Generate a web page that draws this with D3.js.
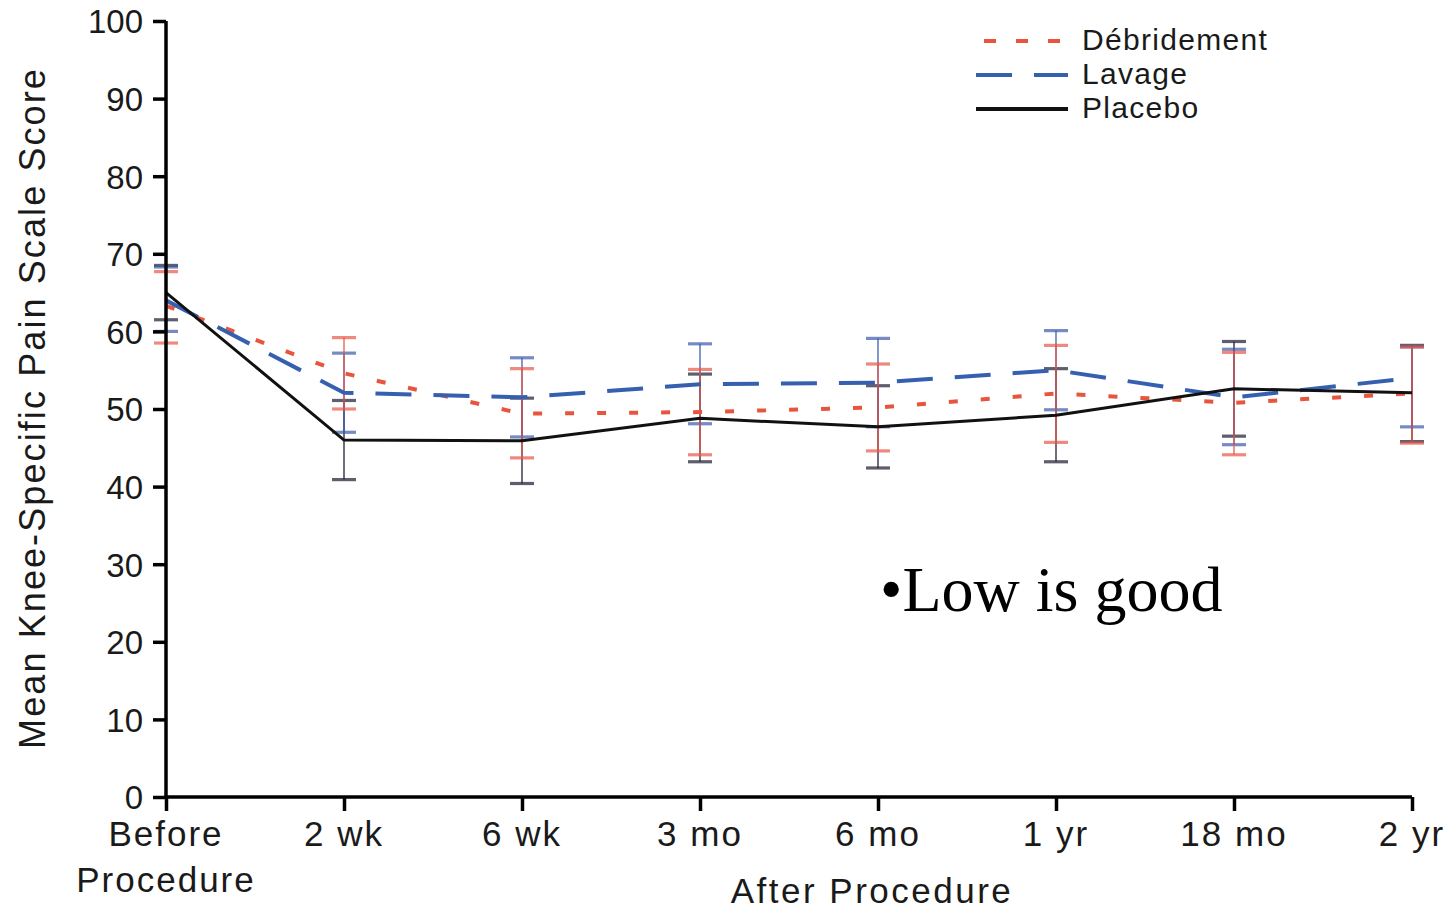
<!DOCTYPE html>
<html><head><meta charset="utf-8">
<script src="https://cdn.jsdelivr.net/npm/d3@7"></script>
<style>body{margin:0;background:#fff}svg{display:block}</style>
</head><body>
<svg id="c" width="1455" height="912"></svg>
<script>
const categories = ["Before Procedure","2 wk","6 wk","3 mo","6 mo","1 yr","18 mo","2 yr"];
const yTicks = [0,10,20,30,40,50,60,70,80,90,100];

const debridementMean = [63.3, 54.6, 49.4, 49.6, 50.2, 52.0, 50.8, 52.0];
const debridementLow  = [58.5, 50.0, 43.7, 44.1, 44.6, 45.7, 44.1, 45.6];
const debridementHigh = [67.7, 59.2, 55.2, 55.1, 55.8, 58.2, 57.3, 58.0];

const lavageMean = [64.0, 52.1, 51.5, 53.2, 53.4, 55.0, 51.5, 54.0];
const lavageLow  = [60.0, 47.0, 46.4, 48.1, 47.7, 49.9, 45.4, 47.7];
const lavageHigh = [68.3, 57.2, 56.6, 58.4, 59.1, 60.1, 57.7, 58.0];

const placeboMean = [65.0, 46.0, 45.9, 48.8, 47.7, 49.2, 52.6, 52.1];
const placeboLow  = [61.5, 40.9, 40.4, 43.2, 42.4, 43.2, 46.5, 45.8];
const placeboHigh = [68.5, 51.1, 51.4, 54.5, 53.0, 55.2, 58.7, 58.2];

const seriesNames = ["Débridement","Lavage","Placebo"];

const series = [
  {name: seriesNames[2], mean: placeboMean, low: placeboLow, high: placeboHigh, color:"#111", dash:null, width:3, barColor:"rgba(40,40,60,0.75)"},
  {name: seriesNames[1], mean: lavageMean, low: lavageLow, high: lavageHigh, color:"#3560b0", dash:"36,22", width:4, barColor:"rgba(60,90,170,0.7)"},
  {name: seriesNames[0], mean: debridementMean, low: debridementLow, high: debridementHigh, color:"#e8553f", dash:"9,23", width:4, barColor:"rgba(232,85,70,0.7)"}
];

const svg = d3.select("#c");
const L = 166, R = 1412, T = 21, B = 797;
const x = d3.scalePoint().domain(categories).range([L, R]).padding(0);
const y = d3.scaleLinear().domain([0, 100]).range([B, T]);
const font = "'Liberation Sans', Arial, Helvetica, sans-serif";

// error bars
const eb = svg.append("g");
series.forEach(s => {
  categories.forEach((c, i) => {
    const cx = x(c);
    eb.append("line").attr("x1", cx).attr("x2", cx)
      .attr("y1", y(s.low[i])).attr("y2", y(s.high[i]))
      .attr("stroke", s.barColor).attr("stroke-width", 1.8);
    [s.low[i], s.high[i]].forEach(v => {
      eb.append("line").attr("x1", cx - 12).attr("x2", cx + 12)
        .attr("y1", y(v)).attr("y2", y(v))
        .attr("stroke", s.barColor).attr("stroke-width", 3.2);
    });
  });
});

// lines
const line = d3.line().x((d, i) => x(categories[i])).y(d => y(d));
[series[2], series[1], series[0]].forEach(s => {
  svg.append("path").datum(s.mean).attr("d", line)
    .attr("fill", "none").attr("stroke", s.color)
    .attr("stroke-width", s.width)
    .attr("stroke-dasharray", s.dash);
});

// axes
const yAxis = d3.axisLeft(y).tickValues(yTicks).tickSize(13).tickPadding(10);
const gy = svg.append("g").attr("transform", `translate(${L},0)`).call(yAxis);
gy.select(".domain").attr("stroke", "#000").attr("stroke-width", 3.5).attr("d", `M0,${T}V${B}`);
gy.selectAll(".tick line").attr("stroke", "#000").attr("stroke-width", 3.5);
gy.selectAll(".tick text").attr("font-family", font).attr("font-size", 33).attr("fill", "#1a1a1a").attr("dy", "0.36em");

const xAxis = d3.axisBottom(x).tickSize(14).tickFormat("");
const gx = svg.append("g").attr("transform", `translate(0,${B})`).call(xAxis);
gx.select(".domain").attr("stroke", "#000").attr("stroke-width", 3.5).attr("d", `M${L - 1.75},0H${R}`);
gx.selectAll(".tick line").attr("stroke", "#000").attr("stroke-width", 3.5);

// x labels
categories.forEach(c => {
  const parts = c === "Before Procedure" ? ["Before", "Procedure"] : [c];
  parts.forEach((p, k) => {
    svg.append("text").attr("x", x(c)).attr("y", 846 + k * 46)
      .attr("text-anchor", "middle").attr("font-family", font)
      .attr("font-size", 35).attr("letter-spacing", 2).attr("fill", "#1a1a1a").text(p);
  });
});

svg.append("text").attr("x", 872).attr("y", 903).attr("text-anchor", "middle")
  .attr("font-family", font).attr("font-size", 35).attr("letter-spacing", 2.5).attr("fill", "#1a1a1a").text("After Procedure");

svg.append("text").attr("transform", "translate(45,408) rotate(-90)")
  .attr("text-anchor", "middle").attr("font-family", font).attr("font-size", 36)
  .attr("letter-spacing", 2.1).attr("fill", "#1a1a1a").text("Mean Knee-Specific Pain Scale Score");

// annotation
svg.append("text").attr("x", 880).attr("y", 611)
  .attr("font-family", "'Liberation Serif', 'Times New Roman', serif")
  .attr("font-size", 64).attr("fill", "#000").text("•Low is good");

// legend
const leg = svg.append("g");
const legOrder = [series[2], series[1], series[0]];
legOrder.forEach((s, i) => {
  const ly = 41 + i * 34;
  leg.append("line").attr("x1", s.dash === "9,23" ? 984 : 976).attr("x2", 1068)
    .attr("y1", ly).attr("y2", ly).attr("stroke", s.color)
    .attr("stroke-width", 4)
    .attr("stroke-dasharray", s.dash === "9,23" ? "12,20" : (s.dash ? "36,22" : null));
  leg.append("text").attr("x", 1082).attr("y", ly - 2).attr("dy", "0.36em")
    .attr("font-family", font).attr("font-size", 30).attr("letter-spacing", 1.3).attr("fill", "#1a1a1a").text(s.name);
});
</script>
</body></html>
